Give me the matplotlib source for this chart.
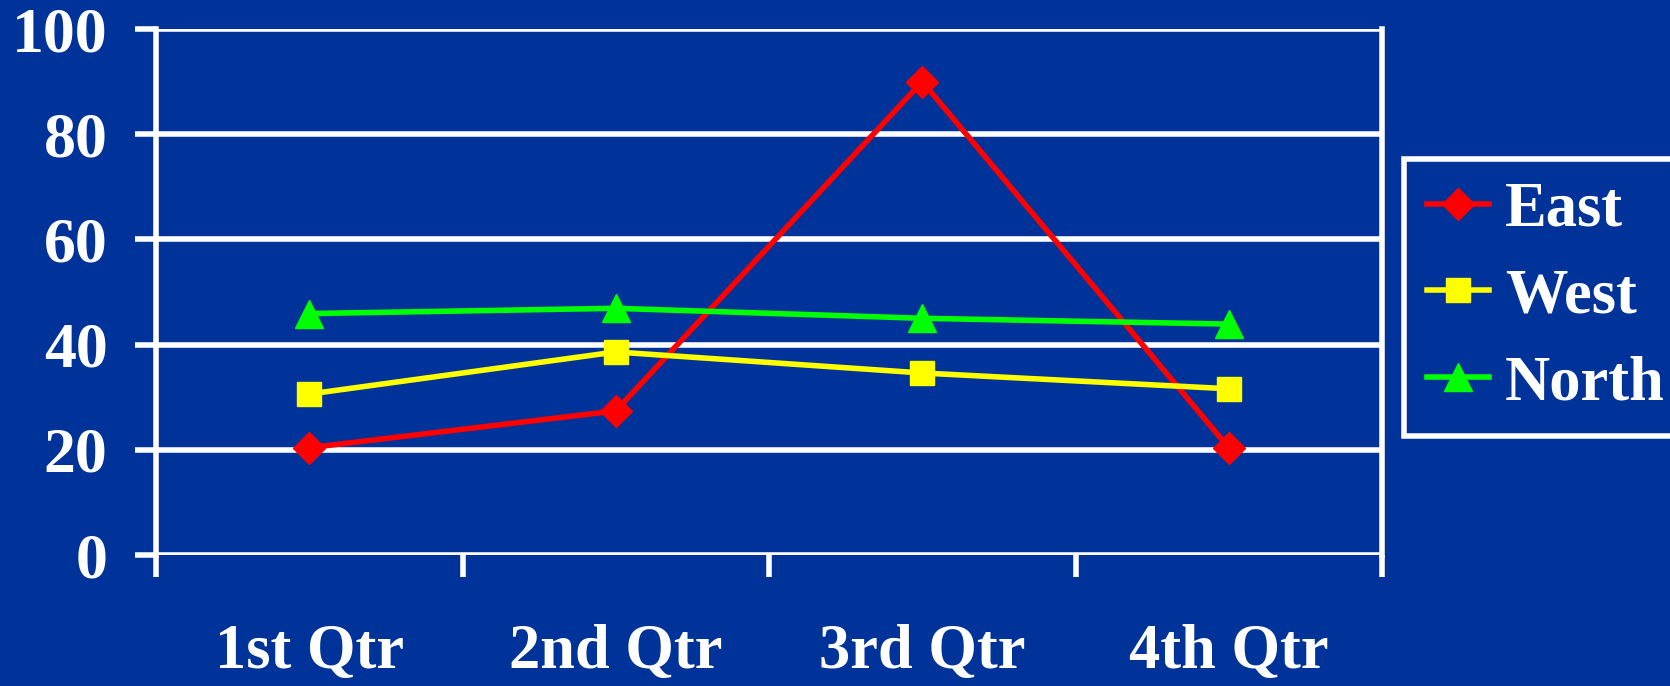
import matplotlib.pyplot as plt
import numpy as np

quarters = ['1st Qtr', '2nd Qtr', '3rd Qtr', '4th Qtr']
east = [20.4, 27.4, 90, 20.4]
west = [30.6, 38.6, 34.6, 31.6]
north = [45.9, 46.9, 45, 43.9]

bg = '#003399'
plt.rcParams['font.family'] = ['Liberation Serif', 'DejaVu Serif']
plt.rcParams['font.weight'] = 'bold'

fig = plt.figure(figsize=(16.7, 6.86), dpi=100, facecolor=bg)
ax = fig.add_axes([156 / 1670, 1 - 555 / 686, (1382 - 156) / 1670, (555 - 29) / 686])
ax.set_facecolor(bg)

x = np.arange(len(quarters))
ax.plot(x, east, color='#ff0000', lw=4, marker='D', ms=16, label='East', zorder=3)
ax.plot(x, west, color='#ffff00', lw=4, marker='s', ms=17, label='West', zorder=3)
ax.plot(x, north, color='#00ff00', lw=4, marker='^', ms=20, label='North', zorder=3)

ax.set_xlim(-0.5, 3.5)
ax.set_ylim(0, 100)
ax.set_yticks(range(0, 101, 20))
ax.yaxis.grid(True, color='white', lw=4)
ax.set_axisbelow(True)

ax.set_xticks(x)
ax.set_xticklabels(quarters)
ax.set_xticks(np.arange(-0.5, 4, 1), minor=True)
ax.tick_params(axis='x', which='major', length=0, pad=50, labelsize=45, colors='white')
ax.tick_params(axis='x', which='minor', length=16, width=4, color='white')
ax.tick_params(axis='y', length=15, width=4, pad=20, labelsize=46, colors='white')

for s in ['top', 'bottom']:
    ax.spines[s].set_visible(False)
for s in ['left', 'right']:
    ax.spines[s].set_color('white')
    ax.spines[s].set_linewidth(4)

leg = ax.legend(loc='upper left', bbox_to_anchor=(1404 / 1670, 1 - 159 / 686),
                bbox_transform=fig.transFigure, fontsize=45, frameon=True,
                facecolor=bg, edgecolor='white', framealpha=1, fancybox=False,
                handlelength=1.0, handletextpad=0.25, labelspacing=0.46,
                borderpad=0.36, borderaxespad=0)
leg.get_frame().set_linewidth(4)
for t in leg.get_texts():
    t.set_color('white')

fig.savefig('out.png', dpi=100, facecolor=bg)
